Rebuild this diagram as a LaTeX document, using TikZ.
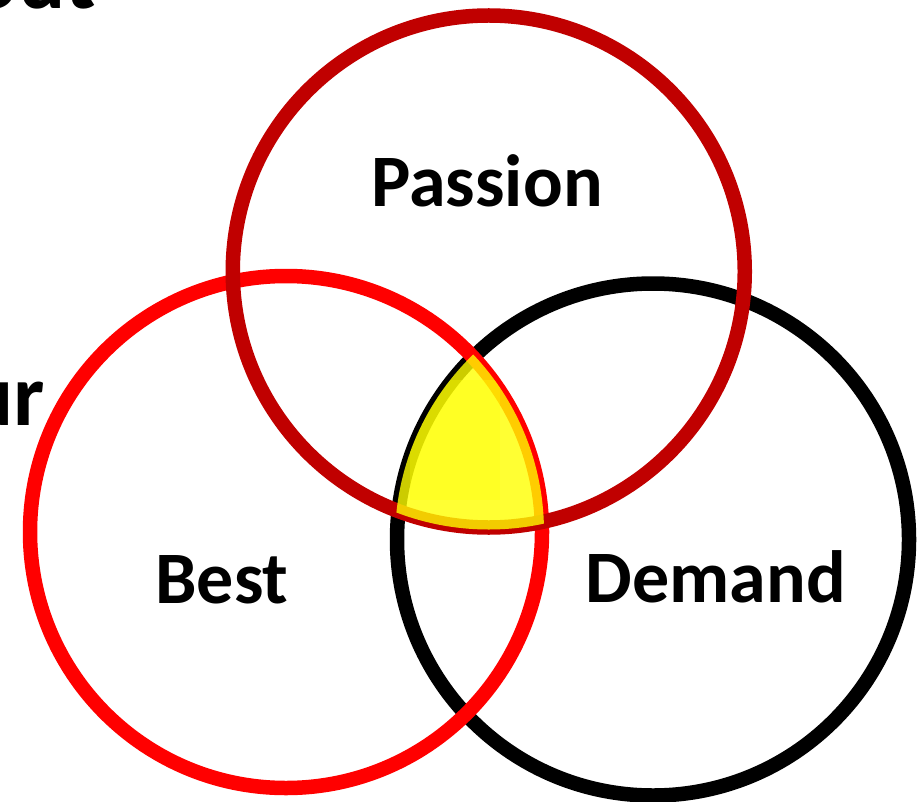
\documentclass[tikz,border=0pt]{standalone}
\usepackage{fontspec}
\setmainfont{Carlito}
\definecolor{passred}{HTML}{C00000}
\definecolor{bestred}{HTML}{FF0000}
\definecolor{hiyellow}{HTML}{FFFF00}
\begin{document}
\begin{tikzpicture}[x=1pt,y=-1pt,
  ring/.style={circle, draw, line width=14.5pt, minimum size=512pt, inner sep=0pt},
  lbl/.style={font=\fontsize{74}{80}\selectfont\bfseries, inner sep=0pt, anchor=base},
  cut/.style={font=\fontsize{88}{96}\selectfont\bfseries, inner sep=0pt, anchor=base east}]
\useasboundingbox (0,0) rectangle (917,802);
\clip (0,0) rectangle (917,802);
% circles
\node[ring, draw=black] (demandC) at (653,539.5) {};
\node[ring, draw=bestred] (bestC) at (286,532) {};
\node[ring, draw=passred] (passionC) at (488.75,271.5) {};
% highlighted common region
\begin{scope}
  \clip (488.75,271.5) circle (258pt);
  \clip (286,532) circle (258pt);
  \clip (653,539.5) circle (258pt);
  \fill[hiyellow, opacity=0.8] (380,330) rectangle (560,540);
  \fill[hiyellow, opacity=0.3] (410,380) rectangle (500,500);
\end{scope}
% labels
\node[lbl] (passion) at (487,207) {Passion};
\node[lbl] (best) at (222,603) {Best};
\node[lbl] (demand) at (716,602) {Demand};
% partial texts cut by the frame
\node[cut] (outtxt) at (96,9) {out};
\node[cut] (urtxt) at (45,425) {ur};
\end{tikzpicture}
\end{document}
